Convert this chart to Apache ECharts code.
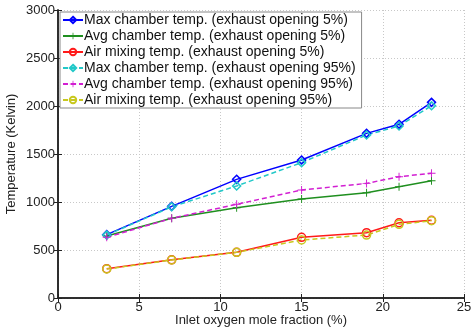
<!DOCTYPE html>
<html><head><meta charset="utf-8">
<script src="https://cdn.jsdelivr.net/npm/echarts@6/dist/echarts.min.js"></script>
<style>html,body{margin:0;padding:0;background:#fff}#c{width:472px;height:331px}</style>
</head><body><div id="c"></div>
<script>
const xVals = [3, 7, 11, 15, 19, 21, 23];
const max5 = [660, 955, 1236, 1437, 1715, 1809, 2038];
const avg5 = [645, 830, 941, 1031, 1097, 1160, 1222];
const air5 = [305, 398, 476, 632, 680, 784, 810];
const max95 = [655, 950, 1167, 1410, 1698, 1792, 2003];
const avg95 = [632, 830, 976, 1125, 1194, 1264, 1299];
const air95 = [302, 396, 476, 604, 656, 767, 805];
const names = [
  'Max chamber temp. (exhaust opening 5%)',
  'Avg chamber temp. (exhaust opening 5%)',
  'Air mixing temp. (exhaust opening 5%)',
  'Max chamber temp. (exhaust opening 95%)',
  'Avg chamber temp. (exhaust opening 95%)',
  'Air mixing temp. (exhaust opening 95%)'
];
const xTitle = 'Inlet oxygen mole fraction (%)';
const yTitle = 'Temperature (Kelvin)';

const plus = 'path://M-1,-0.12L-0.12,-0.12L-0.12,-1L0.12,-1L0.12,-0.12L1,-0.12L1,0.12L0.12,0.12L0.12,1L-0.12,1L-0.12,0.12L-1,0.12Z';
const font = 'Liberation Sans, Arial, sans-serif';
function mk(name, vals, color, symbol, dashed, filled) {
  return {
    name, type: 'line', data: xVals.map((x, i) => [x, vals[i]]),
    symbol, symbolSize: 8,
    lineStyle: {color, width: 1.5, type: dashed ? [5, 3] : 'solid'},
    itemStyle: filled ? {color, borderWidth: 0} : {color: 'rgba(255,255,255,0)', borderColor: color, borderWidth: 1.5},
    color, z: 3
  };
}
const series = [
  mk(names[0], max5, '#0000ff', 'diamond', false, false),
  mk(names[1], avg5, '#1f8f1f', plus, false, true),
  mk(names[2], air5, '#ff1a1a', 'circle', false, false),
  mk(names[3], max95, '#22c8c8', 'diamond', true, false),
  mk(names[4], avg95, '#d21fd2', plus, true, true),
  mk(names[5], air95, '#c8c81e', 'circle', true, false)
];
const gridLine = {show: true, lineStyle: {color: '#c8c8c8', type: [1, 2], width: 1}};
const chart = echarts.init(document.getElementById('c'), null, {renderer: 'canvas'});
chart.setOption({
  backgroundColor: '#fff',
  animation: false,
  grid: {left: 58, right: 8, top: 10, bottom: 33, show: false, containLabel: false, outerBoundsMode: 'none'},
  legend: {
    orient: 'vertical', left: 60, top: 12, padding: [1, 6, 1, 2],
    backgroundColor: '#fff', borderColor: '#888', borderWidth: 1,
    itemWidth: 20, itemHeight: 8, itemGap: 2,
    textStyle: {fontFamily: font, fontSize: 14, lineHeight: 14, color: '#111', padding: [0, 0, 0, -4]},
    data: names
  },
  xAxis: [{
    type: 'value', min: 0, max: 25, interval: 5,
    name: xTitle, nameLocation: 'middle', nameGap: 16, nameMoveOverlap: false,
    nameTextStyle: {fontFamily: font, fontSize: 13, color: '#222'},
    axisLine: {show: true, onZero: false, lineStyle: {color: '#222', width: 1.5}},
    axisTick: {show: true, inside: true, length: 4, lineStyle: {color: '#222'}},
    axisLabel: {fontFamily: font, fontSize: 13, color: '#222', margin: 3},
    splitLine: gridLine
  }, {
    type: 'value', min: 0, max: 25, interval: 5, position: 'top',
    axisLine: {show: true, lineStyle: {color: '#222', width: 1.5}},
    axisTick: {show: true, inside: true, length: 4, lineStyle: {color: '#222'}},
    axisLabel: {show: false}, splitLine: {show: false}
  }],
  yAxis: [{
    type: 'value', min: 0, max: 3000, interval: 500,
    name: yTitle, nameLocation: 'middle', nameGap: 40, nameMoveOverlap: false,
    nameTextStyle: {fontFamily: font, fontSize: 13, color: '#222'},
    axisLine: {show: true, onZero: false, lineStyle: {color: '#222', width: 1.5}},
    axisTick: {show: true, inside: true, length: 4, lineStyle: {color: '#222'}},
    axisLabel: {fontFamily: font, fontSize: 13, color: '#222', margin: 3, formatter: v => String(v)},
    splitLine: gridLine
  }, {
    type: 'value', min: 0, max: 3000, interval: 500, position: 'right',
    axisLine: {show: true, lineStyle: {color: '#222', width: 1.5}},
    axisTick: {show: true, inside: true, length: 4, lineStyle: {color: '#222'}},
    axisLabel: {show: false}, splitLine: {show: false}
  }],
  series
});
</script></body></html>
